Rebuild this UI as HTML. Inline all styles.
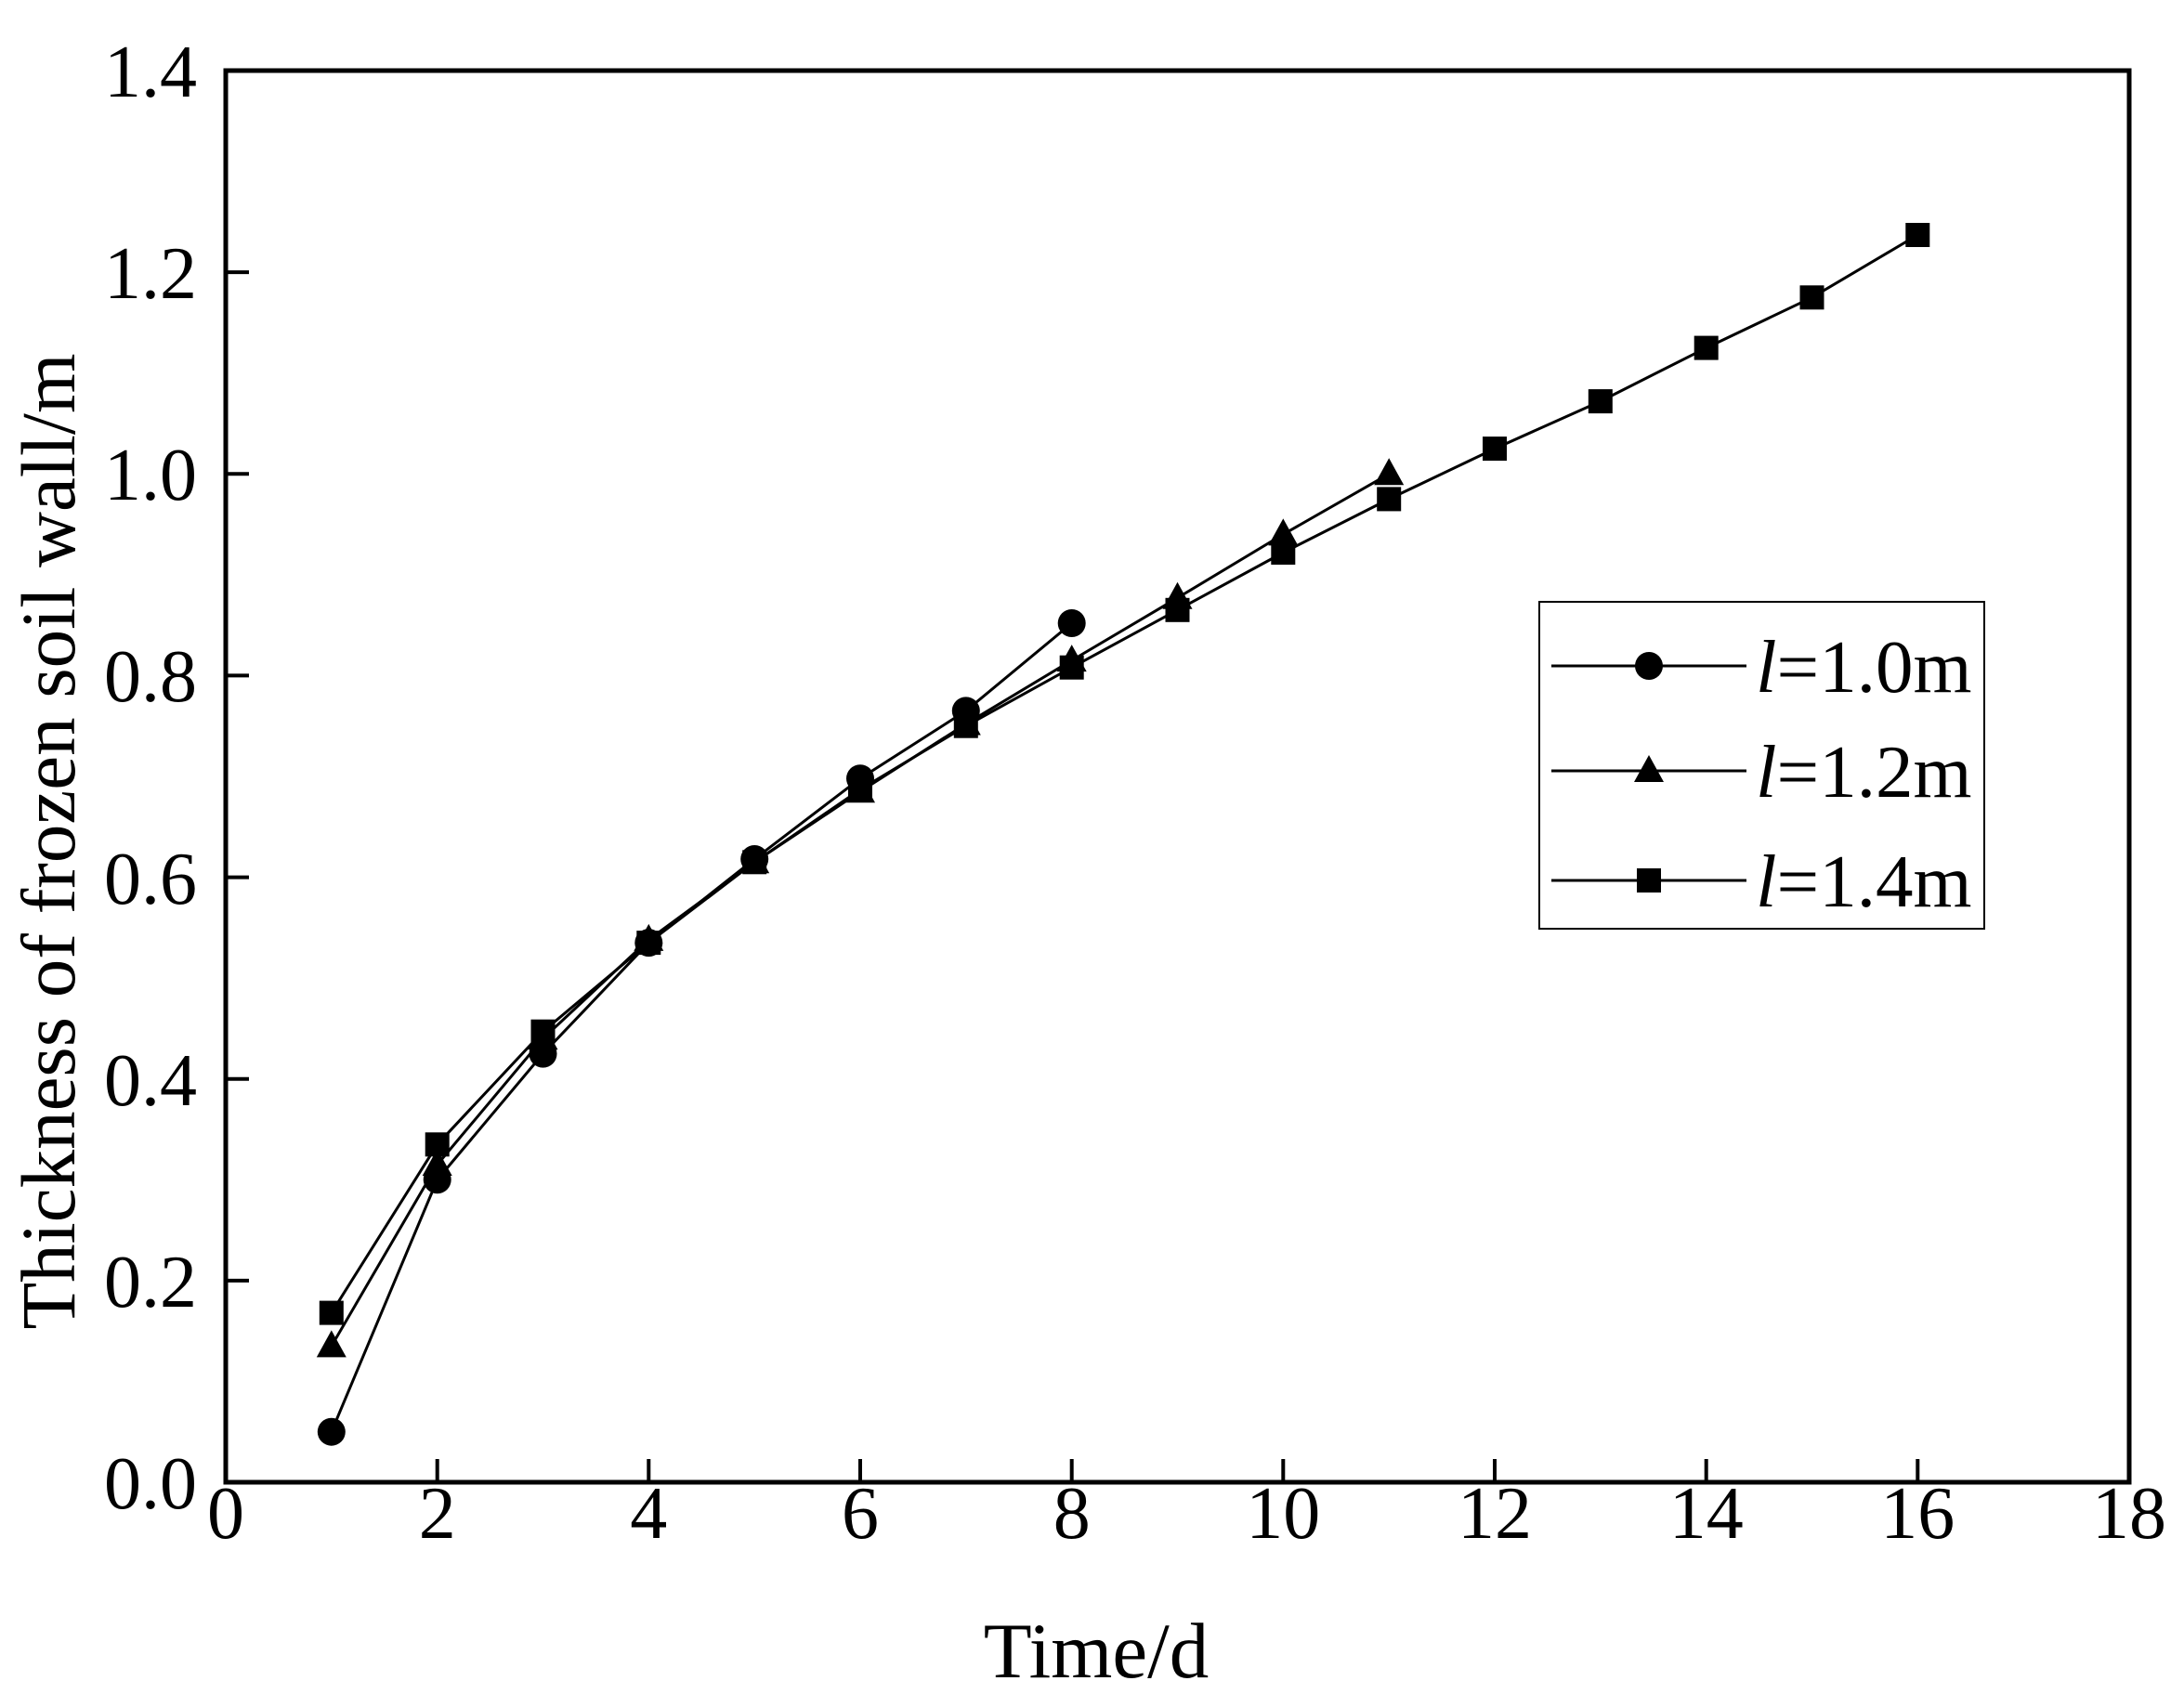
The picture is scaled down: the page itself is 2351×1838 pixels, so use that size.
<!DOCTYPE html>
<html><head><meta charset="utf-8"><style>body{margin:0;background:#fff}</style></head><body>
<svg width="2351" height="1833" xmlns="http://www.w3.org/2000/svg" font-family="'Liberation Serif', serif">
<defs>
<marker id="c" markerUnits="userSpaceOnUse" markerWidth="40" markerHeight="40" refX="20" refY="20" overflow="visible"><circle cx="20" cy="20" r="15" fill="#000"/></marker>
<marker id="t" markerUnits="userSpaceOnUse" markerWidth="40" markerHeight="40" refX="20" refY="20" overflow="visible"><polygon points="20,3 4,32 36,32" fill="#000"/></marker>
<marker id="s" markerUnits="userSpaceOnUse" markerWidth="40" markerHeight="40" refX="20" refY="20" overflow="visible"><rect x="7" y="7" width="26" height="26" fill="#000"/></marker>
</defs>
<rect width="2351" height="1833" fill="#fff"/>
<rect x="243" y="76" width="2049" height="1520" fill="none" stroke="#000" stroke-width="5"/>
<g stroke="#000" stroke-width="4">
<line x1="470.7" y1="1596" x2="470.7" y2="1571"/><line x1="698.3" y1="1596" x2="698.3" y2="1571"/>
<line x1="926" y1="1596" x2="926" y2="1571"/><line x1="1153.7" y1="1596" x2="1153.7" y2="1571"/>
<line x1="1381.3" y1="1596" x2="1381.3" y2="1571"/><line x1="1609" y1="1596" x2="1609" y2="1571"/>
<line x1="1836.7" y1="1596" x2="1836.7" y2="1571"/><line x1="2064.3" y1="1596" x2="2064.3" y2="1571"/>
<line x1="243" y1="1378.9" x2="268" y2="1378.9"/><line x1="243" y1="1161.7" x2="268" y2="1161.7"/>
<line x1="243" y1="944.6" x2="268" y2="944.6"/><line x1="243" y1="727.4" x2="268" y2="727.4"/>
<line x1="243" y1="510.3" x2="268" y2="510.3"/><line x1="243" y1="293.1" x2="268" y2="293.1"/>
</g>
<g font-size="80" text-anchor="middle">
<text x="243" y="1656">0</text><text x="470.7" y="1656">2</text><text x="698.3" y="1656">4</text>
<text x="926" y="1656">6</text><text x="1153.7" y="1656">8</text><text x="1381.3" y="1656">10</text>
<text x="1609" y="1656">12</text><text x="1836.7" y="1656">14</text><text x="2064.3" y="1656">16</text>
<text x="2292" y="1656">18</text>
</g>
<g font-size="80" text-anchor="end">
<text x="212" y="1624">0.0</text><text x="212" y="1407">0.2</text><text x="212" y="1190">0.4</text>
<text x="212" y="973">0.6</text><text x="212" y="755">0.8</text><text x="212" y="538">1.0</text>
<text x="212" y="321">1.2</text><text x="212" y="104">1.4</text>
</g>
<text x="1180" y="1806" font-size="85" text-anchor="middle">Time/d</text>
<text transform="translate(80,906) rotate(-90)" font-size="83" text-anchor="middle">Thickness of frozen soil wall/m</text>
<g fill="none" stroke="#000" stroke-width="3">
<polyline marker-start="url(#s)" marker-mid="url(#s)" marker-end="url(#s)" points="356.8,1413.6 470.7,1232.3 584.5,1110.7 698.3,1015.1 812.2,928.3 926,850.1 1039.8,781.7 1153.7,718.7 1267.5,656.8 1381.3,595 1495.2,537.4 1609,483.1 1722.8,432.1 1836.7,374.6 1950.5,320.3 2064.3,253"/>
<polyline marker-start="url(#t)" marker-mid="url(#t)" marker-end="url(#t)" points="356.8,1449.4 470.7,1254 584.5,1118.3 698.3,1011.9 812.2,928.3 926,852.3 1039.8,779.5 1153.7,711.1 1267.5,643.8 1381.3,575.4 1495.2,510.3"/>
<polyline marker-start="url(#c)" marker-mid="url(#c)" marker-end="url(#c)" points="356.8,1541.7 470.7,1270.3 584.5,1134.6 698.3,1015.1 812.2,925 926,838.2 1039.8,765.4 1153.7,671"/>
</g>
<rect x="1657" y="648" width="479" height="352" fill="#fff" stroke="#000" stroke-width="2"/>
<g stroke="#000" stroke-width="3">
<line x1="1670" y1="717" x2="1880" y2="717"/><line x1="1670" y1="830" x2="1880" y2="830"/><line x1="1670" y1="948" x2="1880" y2="948"/>
</g>
<circle cx="1775" cy="717" r="15" fill="#000"/>
<polygon points="1775,813 1759,842 1791,842" fill="#000"/>
<rect x="1762" y="935" width="26" height="26" fill="#000"/>
<g font-size="81">
<text x="1890" y="745"><tspan font-style="italic">l</tspan>=1.0m</text>
<text x="1890" y="858"><tspan font-style="italic">l</tspan>=1.2m</text>
<text x="1890" y="976"><tspan font-style="italic">l</tspan>=1.4m</text>
</g>
</svg>
</body></html>
